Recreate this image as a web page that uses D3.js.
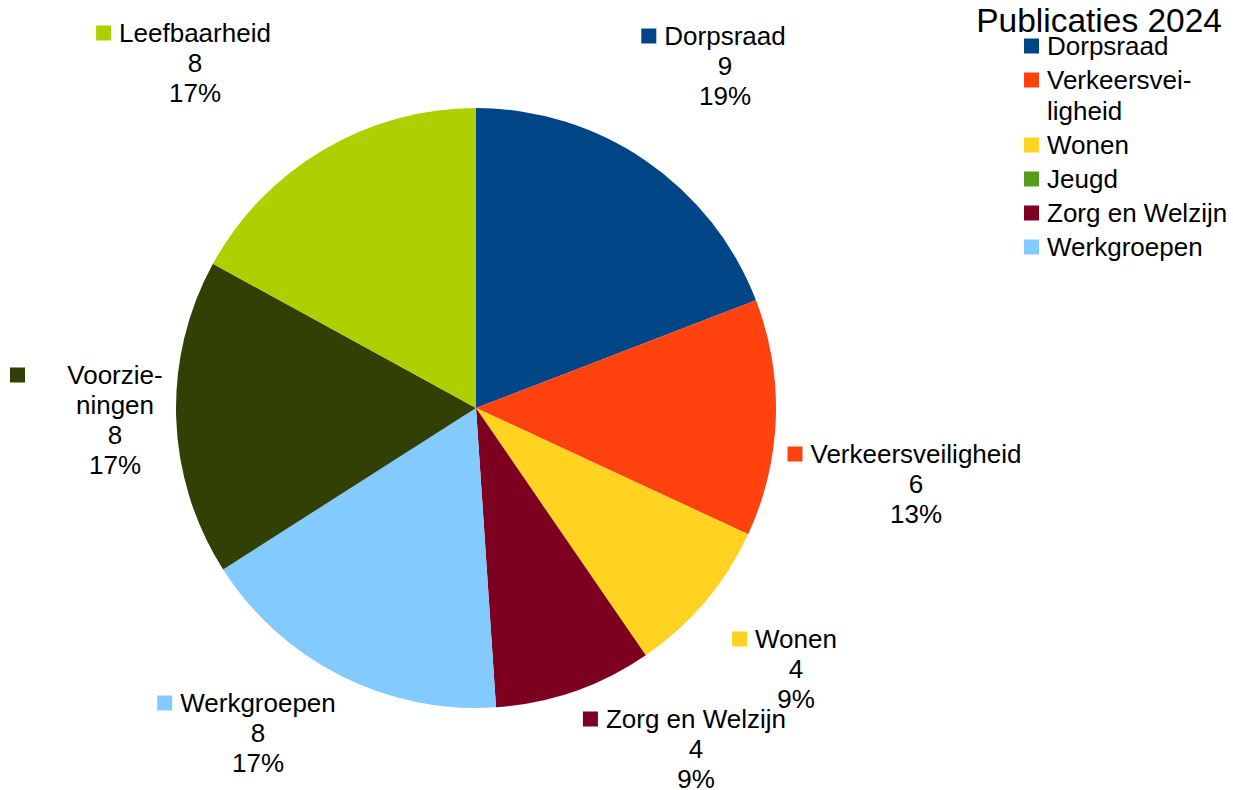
<!DOCTYPE html>
<html>
<head>
<meta charset="utf-8">
<script src="https://cdn.jsdelivr.net/npm/d3@7"></script>
<style>
  html, body { margin: 0; padding: 0; background: #ffffff; }
  svg { display: block; }
  text { font-family: "Liberation Sans", Arial, sans-serif; fill: #000; }
</style>
</head>
<body>
<svg id="chart" width="1233" height="790"></svg>
<script>
// ---- data ----
const title = "Publicaties 2024";
const categories = ["Dorpsraad", "Verkeersveiligheid", "Wonen", "Jeugd", "Zorg en Welzijn", "Werkgroepen", "Voorzieningen", "Leefbaarheid"];
const values = [9, 6, 4, 0, 4, 8, 8, 8];
const colors = ["#004586", "#ff420e", "#ffd320", "#579d1c", "#7e0021", "#83caff", "#314004", "#aecf00"];
const legendCategories = ["Dorpsraad", "Verkeersveiligheid", "Wonen", "Jeugd", "Zorg en Welzijn", "Werkgroepen"];

// ---- layout (presentation only) ----
const W = 1233, H = 790;
const cx = 476, cy = 408, R = 300;
const fontSize = 26, lineH = 30;
// label text-column centre, relative to the pie centre (x) and first-line centre (y)
const labelLayout = {
  "Dorpsraad":          { dx: 249,  dy: -372, lines: ["Dorpsraad"] },
  "Verkeersveiligheid": { dx: 440,  dy: 46,   lines: ["Verkeersveiligheid"] },
  "Wonen":              { dx: 320,  dy: 231,  lines: ["Wonen"] },
  "Zorg en Welzijn":    { dx: 220,  dy: 311,  lines: ["Zorg en Welzijn"] },
  "Werkgroepen":        { dx: -218, dy: 295,  lines: ["Werkgroepen"] },
  "Voorzieningen":      { dx: -361, dy: -33,  lines: ["Voorzie-", "ningen"], squareX: 10 },
  "Leefbaarheid":       { dx: -281, dy: -375, lines: ["Leefbaarheid"] }
};
const legendWrap = { "Verkeersveiligheid": ["Verkeersvei-", "ligheid"] };

const svg = d3.select("#chart");
const color = d3.scaleOrdinal().domain(categories).range(colors);
const total = d3.sum(values);
const pct = d3.format(".0%");

const data = categories.map((c, i) => ({ cat: c, value: values[i] }));
const pie = d3.pie().value(d => d.value).sort(null);
const arcs = pie(data);
const arc = d3.arc().innerRadius(0).outerRadius(R);

const g = svg.append("g").attr("transform", `translate(${cx},${cy})`);
g.selectAll("path.slice")
  .data(arcs.filter(a => a.data.value > 0))
  .join("path")
  .attr("class", "slice")
  .attr("d", arc)
  .attr("fill", d => color(d.data.cat));

// ---- data labels ----
const baseShift = 9; // centre -> baseline
arcs.filter(a => a.data.value > 0).forEach(a => {
  const L = labelLayout[a.data.cat];
  const x = cx + L.dx, y0 = cy + L.dy;
  const lines = L.lines.concat([String(a.data.value), pct(a.data.value / total)]);
  const lg = svg.append("g");
  const texts = lg.selectAll("text").data(lines).join("text")
    .attr("x", x)
    .attr("y", (d, i) => y0 + i * lineH + baseShift)
    .attr("text-anchor", "middle")
    .attr("font-size", fontSize)
    .text(d => d);
  // square left of first line
  const firstW = texts.nodes()[0].getComputedTextLength();
  const sqX = L.squareX !== undefined ? L.squareX : x - firstW / 2 - 8 - 15;
  lg.append("rect")
    .attr("x", sqX).attr("y", y0 - 7.5)
    .attr("width", 15).attr("height", 15)
    .attr("fill", color(a.data.cat));
});

// ---- title ----
svg.append("text")
  .attr("x", 1222).attr("y", 32)
  .attr("text-anchor", "end")
  .attr("font-size", 33.5)
  .text(title);

// ---- legend ----
const legendX = 1024, legendTextX = 1047;
let ly = 46;
legendCategories.forEach(c => {
  const lines = legendWrap[c] || [c];
  svg.append("rect")
    .attr("x", legendX).attr("y", ly - 7.5)
    .attr("width", 15).attr("height", 15)
    .attr("fill", color(c));
  lines.forEach((t, i) => {
    svg.append("text")
      .attr("x", legendTextX)
      .attr("y", ly + i * 31 + baseShift)
      .attr("font-size", fontSize)
      .text(t);
  });
  ly += (lines.length - 1) * 31 + 34;
});
</script>
</body>
</html>
